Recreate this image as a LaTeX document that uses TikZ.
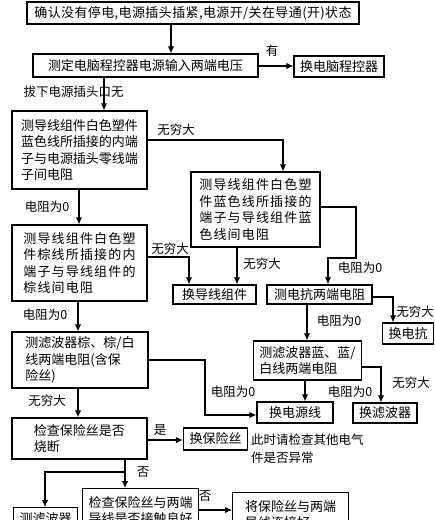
\documentclass[tikz,border=0pt]{standalone}
\usepackage{fontspec}
\newfontfamily\cjk{Noto Sans CJK SC}
\usetikzlibrary{arrows.meta}
\tikzset{
  box/.style={draw, line width=1.3pt, inner xsep=6pt, inner ysep=2pt, align=left, anchor=center,
    font=\cjk\fontsize{13}{16.5}\selectfont},
  wide/.style={font=\cjk\fontsize{13}{16.5}\selectfont\addfontfeature{LetterSpace=9}},
  lbl/.style={inner sep=0pt, font=\cjk\fontsize{12.5}{16}\selectfont},
  ln/.style={line width=1.1pt},
  arr/.style={line width=1.1pt, -{Latex[length=7pt,width=6.5pt]}}
}
\begin{document}
\begin{tikzpicture}[x=1pt,y=-1pt]
\clip (0,0) rectangle (435,520);
\fill[white] (0,0) rectangle (435,520);
% boxes
\node[box, minimum width=332, minimum height=22, font=\cjk\fontsize{13}{16.5}\selectfont\addfontfeature{LetterSpace=3}] (b1) at (193,13) {确认没有停电,电源插头插紧,电源开/关在导通(开)状态};
\node[box, minimum width=225, minimum height=23] (b2) at (145.5,65.5) {测定电脑程控器电源输入两端电压};
\node[box, minimum width=88, minimum height=21] (b2r) at (339,66.5) {换电脑程控器};
\node[box, minimum width=135, minimum height=78] (b3) at (79.5,150) {测导线组件白色塑件\\蓝色线所插接的内端\\子与电源插头零线端\\子间电阻};
\node[box, wide, minimum width=129, minimum height=75] (b4) at (255.5,209.5) {测导线组件白色塑\\件蓝色线所插接的\\端子与导线组件蓝\\色线间电阻};
\node[box, wide, minimum width=135, minimum height=76] (b5) at (79.5,263) {测导线组件白色塑\\件棕线所插接的内\\端子与导线组件的\\棕线间电阻};
\node[box, minimum width=83, minimum height=19] (b5r) at (214.5,294.5) {换导线组件};
\node[box, minimum width=105, minimum height=19] (b6) at (319.5,294.5) {测电抗两端电阻};
\node[box, minimum width=50, minimum height=21] (b6r) at (408,333.5) {换电抗};
\node[box, minimum width=107, minimum height=39] (b7) at (307.5,360.5) {测滤波器蓝、蓝/\\白线两端电阻};
\node[box, minimum width=136, minimum height=56] (b8) at (80,360) {测滤波器棕、棕/白\\线两端电阻(含保\\险丝)};
\node[box, minimum width=76, minimum height=21] (b9) at (295,412.5) {换电源线};
\node[box, minimum width=64, minimum height=20] (b10) at (385,413) {换滤波器};
\node[box, minimum width=135, minimum height=41] (b11) at (79.5,438.5) {检查保险丝是否\\烧断};
\node[box, minimum width=63, minimum height=22] (b12) at (215.5,439) {换保险丝};
\node[lbl, align=left, anchor=west, font=\cjk\fontsize{12.5}{18}\selectfont] (note) at (251,449) {此时请检查其他电气\\件是否异常};
\node[box, minimum width=55, minimum height=22, anchor=north west, inner ysep=1pt] (b13) at (13,507) {测滤波器};
\node[box, minimum width=111, minimum height=44, anchor=north west, inner ysep=1pt] (b14) at (82,488) {检查保险丝与两端\\导线是否接触良好};
\node[box, minimum width=116, minimum height=44, anchor=north west, inner ysep=4pt] (b15) at (232,492) {将保险丝与两端\\导线连接好};
% connectors
\draw[arr] (b1.south -| 171,0) -- (b2.north -| 171,0);
\draw[arr] (b2.east |- 0,66) -- (b2r.west |- 0,66);
\node[lbl] (l1) at (272,51) {有};
\draw[arr] (b2.south -| 104,0) -- (b3.north -| 104,0);
\node[lbl] (l2) at (73.5,92) {拔下电源插头口无};
\draw[arr] (b3.east |- 0,140) -| (b4.north -| 283,0);
\node[lbl] (l3) at (176,130) {无穷大};
\draw[arr] (b3.south -| 79,0) -- (b5.north -| 79,0);
\node[lbl] (l4) at (47,207) {电阻为0};
\draw[arr] (b4.south -| 237,0) -- (b5r.north -| 237,0);
\node[lbl] (l5) at (262,264) {无穷大};
\draw[arr] (b4.east |- 0,207) -- (356,207) -- (356,258) -- (328,258) -- (b6.north -| 328,0);
\node[lbl] (l6) at (360,268) {电阻为0};
\draw[arr] (b5.east |- 0,257) -| (b5r.north -| 189,0);
\node[lbl] (l7) at (170,249) {无穷大};
\draw[arr] (b5.south -| 78,0) -- (b8.north -| 78,0);
\node[lbl] (l8) at (45,315) {电阻为0};
\draw[arr] (b6.east |- 0,297) -| (b6r.north -| 393,0);
\node[lbl] (l9) at (415,312) {无穷大};
\draw[arr] (b6.south -| 307,0) -- (b7.north -| 307,0);
\node[lbl] (l10) at (339,321) {电阻为0};
\draw[arr] (b7.south -| 305,0) -- (b9.north -| 305,0);
\node[lbl] (l11) at (350,392) {电阻为0};
\draw[arr] (b7.east |- 0,367) -| (b10.north -| 381,0);
\node[lbl] (l12) at (411,383) {无穷大};
\draw[arr] (b8.east |- 0,360) -- (205,360) -- (205,415) -- (b9.west |- 0,415);
\node[lbl] (l13) at (233,392) {电阻为0};
\draw[arr] (b8.south -| 78,0) -- (b11.north -| 78,0);
\node[lbl] (l14) at (47,401) {无穷大};
\draw[arr] (b11.east |- 0,440) -- (b12.west |- 0,440);
\node[lbl] (l15) at (160,430) {是};
\coordinate (split) at (125,472);
\draw[ln] (b11.south -| split) -- (split);
\draw[arr] (split) -- (b14.north -| split);
\draw[arr] (split) -| (b13.north -| 45,0);
\node[lbl] (l16) at (143,472) {否};
\draw[arr] (b14.east |- 0,510) -- (b15.west |- 0,510);
\node[lbl] (l17) at (205,496) {否};
\end{tikzpicture}
\end{document}
